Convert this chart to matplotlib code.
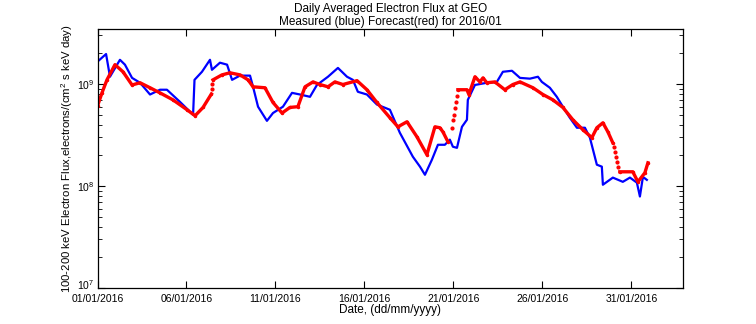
import numpy as np
import pandas as pd
import matplotlib
matplotlib.use('Agg')
import matplotlib.pyplot as plt
import matplotlib.dates as mdates
import matplotlib.transforms as mtransforms
from matplotlib.ticker import LogLocator, NullFormatter

plt.rcParams['font.family'] = ['Liberation Sans', 'DejaVu Sans']
plt.rcParams['mathtext.fontset'] = 'custom'
plt.rcParams['mathtext.rm'] = 'Liberation Sans'
plt.rcParams['mathtext.it'] = 'Liberation Sans'

# measured flux (blue), days since 01/01/2016
meas_days = [0.0, 0.48, 0.70, 1.26, 1.54, 1.94, 2.39, 2.95, 3.51, 3.90, 4.63, 5.37, 5.45,
             5.87, 6.32, 6.43, 6.88, 7.28, 7.56, 8.0, 8.57, 8.74, 9.02, 9.52, 9.86,
             10.42, 10.93, 11.38, 11.94, 12.33, 12.95, 13.51, 14.02, 14.35, 14.63,
             15.14, 15.70, 16.43, 16.99, 17.72, 18.12, 18.40, 18.79, 19.13, 19.52,
             19.80, 19.97, 20.2, 20.48, 20.76, 20.81, 21.21, 21.88, 22.44, 22.78,
             23.29, 23.74, 24.30, 24.75, 24.97, 25.42, 25.81, 26.15, 26.54, 26.94,
             27.39, 27.67, 28.06, 28.34, 28.40, 28.96, 29.52, 29.92, 30.31, 30.48,
             30.65, 30.87]
meas_flux = [1.66e9, 1.97e9, 1.18e9, 1.73e9, 1.55e9, 1.15e9, 1.03e9, 7.9e8, 8.8e8, 8.8e8,
             6.7e8, 5.0e8, 1.1e9, 1.32e9, 1.73e9, 1.38e9, 1.62e9, 1.55e9, 1.10e9,
             1.21e9, 1.21e9, 9.4e8, 6.0e8, 4.36e8, 5.2e8, 6.0e8, 8.2e8, 7.9e8, 7.5e8,
             9.8e8, 1.18e9, 1.44e9, 1.18e9, 1.10e9, 8.4e8, 7.9e8, 6.3e8, 5.6e8, 3.33e8,
             1.94e8, 1.55e8, 1.29e8, 1.81e8, 2.54e8, 2.54e8, 2.85e8, 2.43e8, 2.37e8,
             3.81e8, 4.47e8, 7.0e8, 9.8e8, 1.03e9, 1.05e9, 1.32e9, 1.35e9, 1.15e9,
             1.13e9, 1.18e9, 1.05e9, 9.2e8, 7.5e8, 6.0e8, 4.68e8, 3.73e8, 3.73e8,
             2.98e8, 1.62e8, 1.55e8, 1.03e8, 1.21e8, 1.10e8, 1.21e8, 1.08e8, 7.9e7,
             1.23e8, 1.15e8]

# forecast flux (red), continuous stretches
fc_days = [0.0, 0.25, 0.53, 0.98, 1.43, 1.94, 2.39, 2.95, 3.51, 4.24, 5.03, 5.48, 5.93,
           6.40, np.nan,
           6.49, 6.99, 7.44, 8.01, 8.46, 8.74, 9.41, 9.86, 10.37, 10.81, 11.26, 11.66,
           12.11, 12.50, 12.95, 13.34, 13.79, 14.58, 15.14, 15.70, 16.43, 16.88,
           17.39, 17.95, 18.51, 18.96, 19.24, 19.41, 19.69, np.nan,
           20.25, 20.76, 20.87, 21.21, 21.49, 21.66, 21.88, 22.33, 22.89, 23.34,
           23.74, 24.47, 25.03, 25.59, 26.15, 26.71, 27.28, 27.78, 28.06, 28.40,
           28.68, 28.96, np.nan,
           29.35, 30.08, 30.37, 30.76, 30.93]
fc_flux = [6.1e8, 8.2e8, 1.10e9, 1.55e9, 1.32e9, 9.8e8, 1.03e9, 9.2e8, 8.2e8, 7.0e8,
           5.6e8, 4.89e8, 5.9e8, 8.0e8, np.nan,
           1.10e9, 1.23e9, 1.29e9, 1.23e9, 1.10e9, 9.4e8, 9.2e8, 6.6e8, 5.2e8, 5.9e8,
           6.0e8, 9.4e8, 1.05e9, 9.9e8, 9.4e8, 1.05e9, 9.9e8, 1.08e9, 8.8e8, 6.6e8,
           4.68e8, 3.81e8, 4.27e8, 3.04e8, 2.03e8, 3.81e8, 3.73e8, 3.40e8, 2.72e8, np.nan,
           8.8e8, 8.8e8, 7.9e8, 1.18e9, 1.05e9, 1.15e9, 1.03e9, 1.05e9, 8.8e8, 9.9e8,
           1.05e9, 9.2e8, 7.9e8, 7.0e8, 5.9e8, 4.47e8, 3.56e8, 2.98e8, 3.73e8, 4.17e8,
           3.40e8, 2.65e8, np.nan,
           1.38e8, 1.38e8, 1.10e8, 1.35e8, 1.69e8]

# isolated forecast dots in the fast jumps
jump_days = [6.42, 6.45, 19.92, 19.98, 20.03, 20.08, 20.13, 20.18, 29.02, 29.08, 29.14, 29.20, 29.27]
jump_flux = [9.0e8, 1.0e9, 3.73e8, 4.4e8, 5.0e8, 5.8e8, 6.6e8, 7.6e8, 2.4e8, 2.17e8, 1.93e8, 1.73e8, 1.55e8]

start = pd.Timestamp('2016-01-01')
def to_dates(d):
    return start + pd.to_timedelta(np.array(d, dtype=float), unit='D')

tick_days = [0, 5, 10, 15, 20, 25, 30]

fig = plt.figure(figsize=(7.56, 3.24), dpi=100)
ax = fig.add_axes([0.129, 0.111, 0.7744, 0.7995])

ax.plot(to_dates(meas_days), meas_flux, color='#0000ff', lw=1.6)
ax.plot(to_dates(fc_days), fc_flux, color='#ff0000', lw=2.4, marker='.', ms=3)
ax.plot(to_dates(jump_days), jump_flux, color='#ff0000', ls='none', marker='.', ms=4)

ax.set_yscale('log')
ax.set_ylim(1e7, 10**9.54)
ax.set_xlim(start, start + pd.Timedelta(days=32.9))
ax.set_xticks(to_dates(tick_days))
ax.xaxis.set_major_formatter(mdates.DateFormatter('%d/%m/%Y'))
ax.set_yticks([1e7, 1e8, 1e9])
ax.yaxis.set_minor_locator(LogLocator(base=10, subs=np.arange(2, 10), numticks=10))
ax.yaxis.set_minor_formatter(NullFormatter())

ax.tick_params(which='both', direction='in', top=True, right=True, labelsize=7.5, pad=2)
ax.tick_params(axis='x', pad=4)
ax.tick_params(which='major', length=5, width=0.8)
ax.tick_params(which='minor', length=3, width=0.6)
for s in ax.spines.values():
    s.set_linewidth(0.9)

# lift the bottom y label a little so it clears the first date label
lab7 = ax.get_yticklabels()[0]
lab7.set_transform(lab7.get_transform() + mtransforms.ScaledTranslation(0, 3 / 72, fig.dpi_scale_trans))

ax.set_title('Daily Averaged Electron Flux at GEO\nMeasured (blue) Forecast(red) for 2016/01',
             fontsize=8.5, pad=3, linespacing=1.05)
ax.set_xlabel('Date, (dd/mm/yyyy)', fontsize=8.5, labelpad=0)
ax.set_ylabel('100-200 keV Electron Flux,electrons/(cm$^2$ s keV day)', fontsize=8.2, labelpad=2)

fig.savefig('out.png', dpi=100)
